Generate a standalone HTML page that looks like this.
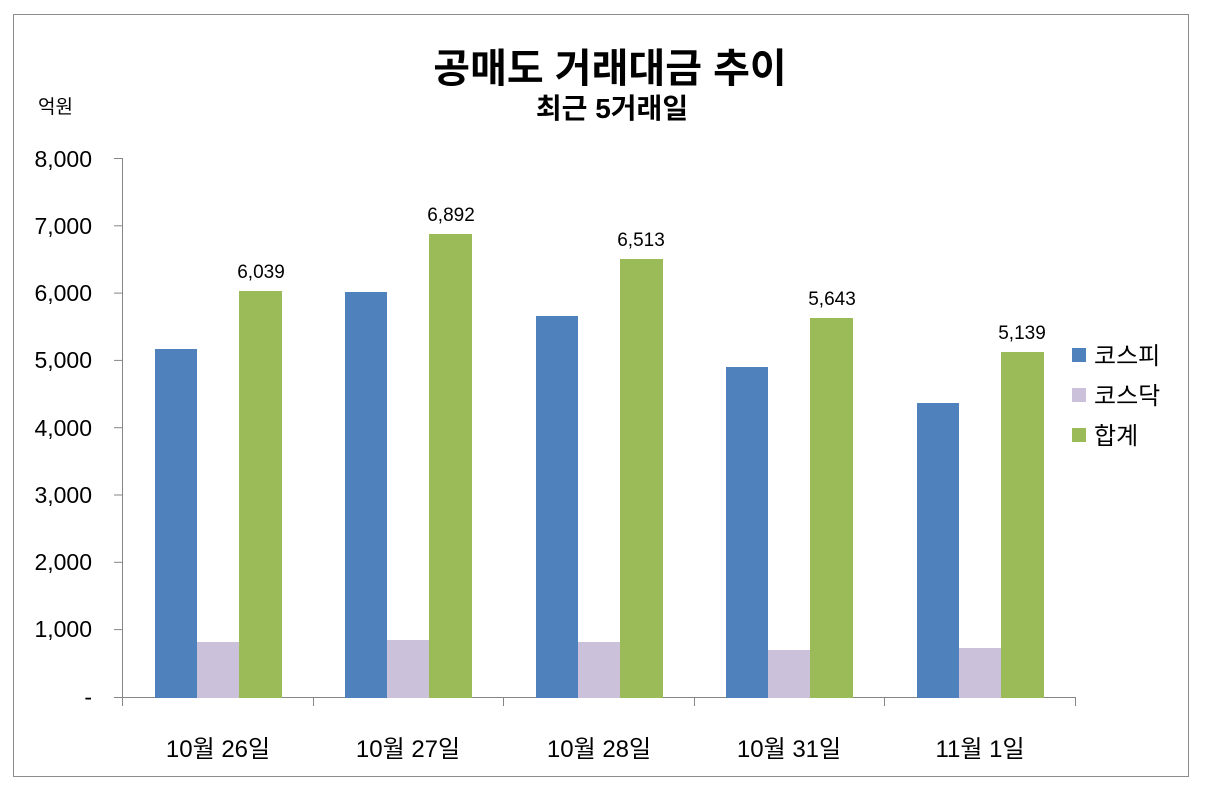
<!DOCTYPE html>
<html><head><meta charset="utf-8"><style>
html,body{margin:0;padding:0;background:#fff}
svg text{font-family:"Liberation Sans","Noto Sans CJK KR",sans-serif}
</style></head><body>
<svg width="1205" height="789" xmlns="http://www.w3.org/2000/svg">
<rect x="13.5" y="14.5" width="1175" height="762" fill="#fff" stroke="#8c8c8c" stroke-width="1"/>
<text x="610" y="82" text-anchor="middle" font-size="40" font-weight="bold" fill="#000">공매도 거래대금 추이</text>
<text x="612" y="118" text-anchor="middle" font-size="28" font-weight="bold" fill="#000">최근 5거래일</text>
<text x="38" y="113" font-size="19" fill="#000">억원</text>
<g stroke="#868686" stroke-width="1">
<line x1="122.5" y1="158" x2="122.5" y2="698"/>
<line x1="122" y1="697.5" x2="1076" y2="697.5"/>
<line x1="114" y1="158.5" x2="122" y2="158.5"/>
<line x1="114" y1="225.8" x2="122" y2="225.8"/>
<line x1="114" y1="293.1" x2="122" y2="293.1"/>
<line x1="114" y1="360.4" x2="122" y2="360.4"/>
<line x1="114" y1="427.7" x2="122" y2="427.7"/>
<line x1="114" y1="495" x2="122" y2="495"/>
<line x1="114" y1="562.3" x2="122" y2="562.3"/>
<line x1="114" y1="629.6" x2="122" y2="629.6"/>
<line x1="114" y1="697.5" x2="122" y2="697.5"/>
<line x1="122.5" y1="698" x2="122.5" y2="706"/>
<line x1="313.5" y1="698" x2="313.5" y2="706"/>
<line x1="503.5" y1="698" x2="503.5" y2="706"/>
<line x1="694.5" y1="698" x2="694.5" y2="706"/>
<line x1="884.5" y1="698" x2="884.5" y2="706"/>
<line x1="1075.5" y1="698" x2="1075.5" y2="706"/>
</g>
<g font-size="23" text-anchor="end" fill="#000">
<text x="92" y="167">8,000</text>
<text x="92" y="234">7,000</text>
<text x="92" y="301">6,000</text>
<text x="92" y="368">5,000</text>
<text x="92" y="436">4,000</text>
<text x="92" y="503">3,000</text>
<text x="92" y="570">2,000</text>
<text x="92" y="637">1,000</text>
<text x="92" y="705">-</text>
</g>
<g>
<rect x="155" y="349" width="42" height="349" fill="#4f81bd"/>
<rect x="197" y="642" width="42" height="56" fill="#ccc1da"/>
<rect x="239" y="291" width="43" height="407" fill="#9bbb59"/>
<rect x="345" y="292" width="42" height="406" fill="#4f81bd"/>
<rect x="387" y="640" width="42" height="58" fill="#ccc1da"/>
<rect x="429" y="234" width="43" height="464" fill="#9bbb59"/>
<rect x="536" y="316" width="42" height="382" fill="#4f81bd"/>
<rect x="578" y="642" width="42" height="56" fill="#ccc1da"/>
<rect x="620" y="259" width="43" height="439" fill="#9bbb59"/>
<rect x="726" y="367" width="42" height="331" fill="#4f81bd"/>
<rect x="768" y="650" width="42" height="48" fill="#ccc1da"/>
<rect x="810" y="318" width="43" height="380" fill="#9bbb59"/>
<rect x="917" y="403" width="42" height="295" fill="#4f81bd"/>
<rect x="959" y="648" width="42" height="50" fill="#ccc1da"/>
<rect x="1001" y="352" width="43" height="346" fill="#9bbb59"/>
</g>
<g font-size="19" text-anchor="middle" fill="#000">
<text x="261" y="278">6,039</text>
<text x="451" y="221">6,892</text>
<text x="641" y="246">6,513</text>
<text x="832" y="305">5,643</text>
<text x="1022" y="339">5,139</text>
</g>
<g font-size="24" text-anchor="middle" fill="#000">
<text x="218" y="757">10월 26일</text>
<text x="408" y="757">10월 27일</text>
<text x="599" y="757">10월 28일</text>
<text x="789" y="757">10월 31일</text>
<text x="980" y="757">11월 1일</text>
</g>
<rect x="1072" y="348" width="14" height="14" fill="#4f81bd"/>
<rect x="1072" y="388" width="14" height="14" fill="#ccc1da"/>
<rect x="1072" y="428" width="14" height="14" fill="#9bbb59"/>
<g font-size="24" fill="#000">
<text x="1094" y="364">코스피</text>
<text x="1094" y="404">코스닥</text>
<text x="1094" y="444">합계</text>
</g>
</svg>
</body></html>
